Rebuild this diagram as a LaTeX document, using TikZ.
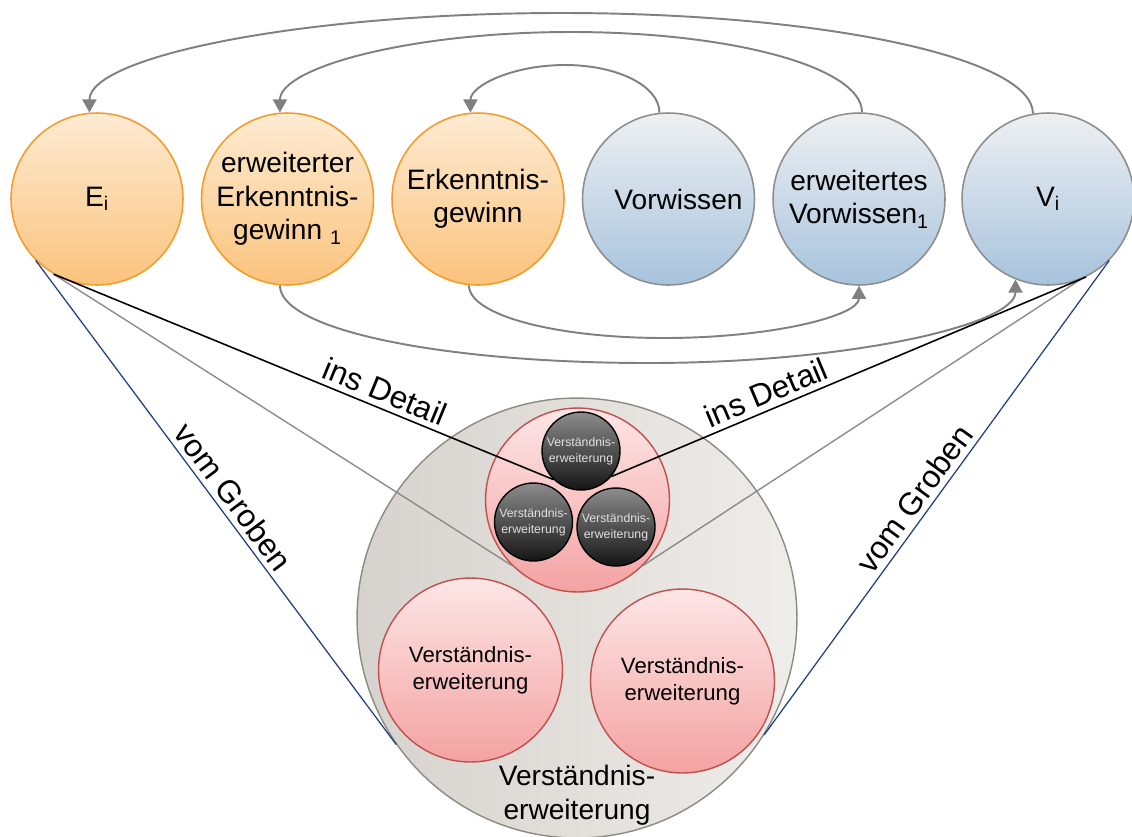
\documentclass[tikz,border=0pt]{standalone}
\usepackage{fontspec}
\setmainfont{Liberation Sans}
\usepackage{tikz}
\usetikzlibrary{shapes.geometric, arrows.meta}
\definecolor{ekRand}{HTML}{F39C2E}
\definecolor{ekOben}{HTML}{FDEBD3}
\definecolor{ekUnten}{HTML}{FBC37C}
\definecolor{vwRand}{HTML}{8E8E8E}
\definecolor{vwOben}{HTML}{EEF0F2}
\definecolor{vwUnten}{HTML}{A7C3DD}
\definecolor{veRand}{HTML}{C0504D}
\definecolor{veOben}{HTML}{FDE6E6}
\definecolor{veUnten}{HTML}{F4A2A2}
\definecolor{grRand}{HTML}{8C8A82}
\definecolor{grLinks}{HTML}{D6D2CD}
\definecolor{grRechts}{HTML}{EFEDEA}
\definecolor{pfeil}{HTML}{808080}
\definecolor{grob}{HTML}{1F3B82}
\tikzstyle{ek} = [circle, minimum size=3.44cm, inner sep=0pt, align=center, draw=ekRand, line width=0.9pt, top color=ekOben, bottom color=ekUnten, font=\fontsize{16}{19}\selectfont]
\tikzstyle{vw} = [ek, draw=vwRand, top color=vwOben, bottom color=vwUnten]
\tikzstyle{ve} = [circle, minimum size=3.68cm, inner sep=0pt, align=center, draw=veRand, line width=0.8pt, top color=veOben, bottom color=veUnten, font=\fontsize{12.6}{15.5}\selectfont]
\tikzstyle{vedunkel} = [circle, minimum size=1.56cm, inner sep=0pt, align=center, draw=black, line width=0.8pt, top color=black!45, bottom color=black!92, text=white!88!black, font=\fontsize{7}{9.3}\selectfont]
\tikzstyle{bogen} = [draw=pfeil, line width=1.1pt]
\tikzstyle{arrow} = [bogen, ->, >={Triangle[length=7.5pt,width=8pt]}]
\tikzstyle{schrift} = [text=black, inner sep=3pt, font=\fontsize{18}{21}\selectfont]
\begin{document}
\begin{tikzpicture}[x=0.02cm, y=-0.02cm]
      \useasboundingbox (0,0) rectangle (1132,836);

      % unten: Verstaendniserweiterung
      \node [circle, minimum size=8.8cm, draw=grRand, line width=0.8pt, left color=grLinks, right color=grRechts] (gross) at (577,618) {};
      \node [ve] (vemitte) at (577.5,500) {};
      \node [vedunkel] (vd1) at (581,451) {Verständnis-\\erweiterung};
      \node [vedunkel] (vd2) at (533.5,522) {Verständnis-\\erweiterung};
      \node [vedunkel] (vd3) at (616,527) {Verständnis-\\erweiterung};
      \node [ve] (velinks) at (470.5,670) {Verständnis-\\erweiterung};
      \node [ve] (verechts) at (682.5,681) {Verständnis-\\erweiterung};
      \node [align=center, font=\fontsize{16}{19.5}\selectfont] (grosstext) at (577,795) {Verständnis-\\erweiterung};

      % oben
      \node [ek] (ei) at (97,199) {E\textsubscript{i}};
      \node [ek] (ek1) at (287.5,199) {erweiterter\\Erkenntnis-\\gewinn \textsubscript{1}};
      \node [ek] (ek) at (478,199) {Erkenntnis-\\gewinn};
      \node [vw] (vw) at (668.5,199) {\hspace*{0.4cm}Vorwissen};
      \node [vw] (vw1) at (859,199) {erweitertes\\Vorwissen\textsubscript{1}};
      \node [vw] (vi) at (1048,199) {V\textsubscript{i}};

      \coordinate (a1) at (561.5,13);
      \coordinate (a2) at (571,32);
      \coordinate (a3) at (565,65);
      \coordinate (b1) at (648,363);
      \coordinate (b2) at (664,338);

      \draw [arrow] (vi.100) .. controls +(0,-56) and +(260,0) .. (a1) .. controls +(-260,0) and +(0,-56) .. (ei.95);
      \draw [arrow] (vw1.88) .. controls +(0,-45) and +(161,0) .. (a2) .. controls +(-161,0) and +(0,-45) .. (ek1.95);
      \draw [arrow] (vw.96) .. controls +(0,-27) and +(52,0) .. (a3) .. controls +(-52,0) and +(0,-27) .. (ek.95);
      \draw [arrow] (ek1.265) .. controls +(0,45) and +(-203,0) .. (b1) .. controls +(203,0) and +(0,45) .. (vi.248);
      \draw [arrow] (ek.264) .. controls +(0,30) and +(-108,0) .. (b2) .. controls +(108,0) and +(0,30) .. (vw1.270);

      % Linien
      \draw [grob, line width=0.7pt] (ei.225) -- node[sloped, above, pos=0.51, schrift] {vom Groben} (gross.215);
      \draw [black!45, line width=0.8pt] (ei.240) -- (vemitte.225);
      \draw [black, line width=0.9pt] (ei.240) -- node[sloped, above, pos=0.65, schrift] {ins Detail} (vd1.226);
      \draw [black!45, line width=0.8pt] (vemitte.315) -- (vi.292);
      \draw [black, line width=0.9pt] (vd1.320) -- node[sloped, above, pos=0.34, schrift] {ins Detail} (vi.296);
      \draw [grob, line width=0.7pt] (gross.328) -- node[sloped, above, pos=0.476, schrift] {vom Groben} (vi.315);
\end{tikzpicture}
\end{document}
